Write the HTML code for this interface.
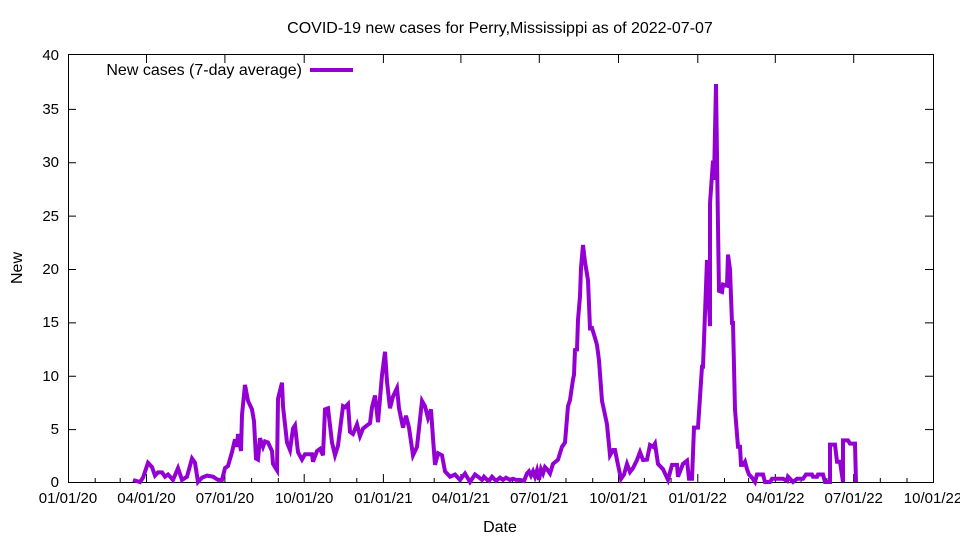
<!DOCTYPE html>
<html><head><meta charset="utf-8"><style>
html,body{margin:0;padding:0;background:#fff;}
svg text{font-family:"Liberation Sans",sans-serif;font-size:15px;fill:#000;}
svg text.big{font-size:16px;}
</style></head><body>
<svg width="960" height="540" xmlns="http://www.w3.org/2000/svg">
<rect width="960" height="540" fill="#fff"/>
<text class="big" x="500" y="33" text-anchor="middle">COVID-19 new cases for Perry,Mississippi as of 2022-07-07</text>
<g stroke="#000" stroke-width="1" fill="none">
<rect x="68.5" y="54.5" width="865" height="428"/>
<path d="M68 429.6h8M933 429.6h-8M68 376.2h8M933 376.2h-8M68 322.9h8M933 322.9h-8M68 269.5h8M933 269.5h-8M68 216.1h8M933 216.1h-8M68 162.7h8M933 162.7h-8M68 109.4h8M933 109.4h-8"/>
<path d="M146.5 482v-8M146.5 55v8M224.9 482v-8M224.9 55v8M304.2 482v-8M304.2 55v8M383.4 482v-8M383.4 55v8M460.9 482v-8M460.9 55v8M539.3 482v-8M539.3 55v8M618.5 482v-8M618.5 55v8M697.8 482v-8M697.8 55v8M775.3 482v-8M775.3 55v8M853.7 482v-8M853.7 55v8"/>
<path d="M95.2 482v-4M120.2 482v-4M172.4 482v-4M198.2 482v-4M251.6 482v-4M278.3 482v-4M330.1 482v-4M356.8 482v-4M410.1 482v-4M434.2 482v-4M486.8 482v-4M512.6 482v-4M566 482v-4M592.7 482v-4M644.4 482v-4M671.1 482v-4M724.5 482v-4M748.6 482v-4M801.1 482v-4M826.9 482v-4M880.3 482v-4M907 482v-4"/>
</g>
<g text-anchor="end">
<text x="59" y="487">0</text><text x="59" y="434">5</text><text x="59" y="381">10</text><text x="59" y="327">15</text><text x="59" y="274">20</text><text x="59" y="221">25</text><text x="59" y="167">30</text><text x="59" y="114">35</text><text x="59" y="60">40</text>
</g>
<g text-anchor="middle">
<text x="68" y="503">01/01/20</text><text x="146.5" y="503">04/01/20</text><text x="224.9" y="503">07/01/20</text><text x="304.2" y="503">10/01/20</text><text x="383.4" y="503">01/01/21</text><text x="460.9" y="503">04/01/21</text><text x="539.3" y="503">07/01/21</text><text x="618.5" y="503">10/01/21</text><text x="697.8" y="503">01/01/22</text><text x="775.3" y="503">04/01/22</text><text x="853.7" y="503">07/01/22</text><text x="933" y="503">10/01/22</text>
<text class="big" x="500" y="532">Date</text>
<text class="big" transform="translate(22,268) rotate(-90)">New</text>
</g>
<text class="big" x="302" y="75" text-anchor="end">New cases (7-day average)</text>
<line x1="310" y1="70" x2="353" y2="70" stroke="#9400d3" stroke-width="4"/>
<polyline fill="none" stroke="#9400d3" stroke-width="4" stroke-linejoin="miter" points="
133,480 140,482 143,477.7 148,462.8 152,467.1 155,475.6 158,472.4 162,472.4 165,476.7 168,474.5 173,479.9 178,468.1 182,479.9 187,476.7 192,458.5 195,462.8 198,482 202,477.7 207,475.6 213,476.7 218,479.9 222,479.9 225,468.1 228,466 232,452.1 235,439.3 237,446.8 238,434 241,451 242,414.7 245,384.9 248,400.9 252,409.4 254,421.2 256,458.5 258,459.6 260,438.2 263,446.8 265,441.4 268,442.5 272,451 273,463.9 277,470.3 278,398.7 282,382.7 283,406.2 287,442.5 290,450 293,428.6 295,425.4 298,452.1 302,459.6 305,454.2 312,454.2 313,461.7 317,451 320,448.9 323,455.3 325,409.4 328,408.3 332,442.5 335,455.3 338,445.7 343,406.2 345,407.3 348,404.1 350,431.8 353,434 357,424.4 360,436.1 363,428.6 367,425.4 370,423.3 372,407.3 375,395.5 378,422.2 382,375.2 385,351.8 387,381.7 390,408.3 393,396.6 397,388.1 399,408.3 403,427.6 406,415.8 409,427.6 413,455.3 417,446.8 422,400.9 425,406.2 428,418 431,409.4 433,438.2 435,464.9 438,453.2 442,455.3 445,471.3 450,476.7 455,474.5 460,479.9 465,473.5 470,482 475,474.5 478,476.7 482,479.9 484,476.7 486,478.8 489,480.9 492,476.7 496,480.9 500,477.7 503,479.9 506,477.7 510,479.9 513,478.8 516,479.9 520,479.9 524,481 527,473.5 529,471.3 531,475.6 533,471.3 535,476.7 537,470.3 539,479.9 541,469.2 543,473.5 545,467.1 547,469.2 550,473.5 553,463.9 558,459.6 562,446.8 565,442.5 568,406.2 570,400 573,379.5 574,375 575,350 577,349.6 578,320 580,296.3 581,268 583,245 585,262 588,280.2 590,328.3 592,328 595,337.9 597,345 599,360.3 602,400.9 604,410 607,424.4 610,455.3 613,450 615,450 618,464.9 621,478.8 624,474.5 627,463.9 630,472 633,468.1 637,460 640,452.1 643,460 647,459.6 650,445 653,446.8 655,443.6 658,463.9 663,469.2 668,479.9 672,464.9 677,464.9 678,476.7 683,463.9 687,460.7 689,478.8 692,478.8 694,427.6 698,427.6 702,366.7 703,366.7 705,313.3 707,260 710,326.1 710,203.4 713,160.7 714,179.9 716,84 718,226.9 719,290.9 722,292 723,284.5 727,285.6 728,254.6 730,269.6 732,322.9 733,322.9 735,409.4 738,446.8 740,446.8 741,464.9 743,464.9 745,461.7 747,469.2 749,474.5 752,477.7 755,482 757,474.5 763,474.5 765,482 770,482 772,478.8 783,478.8 787,480.9 788,476.7 790,478.8 793,482 797,478.8 803,478.8 806,474.5 812,474.5 813,476.7 817,476.7 818,474.5 823,474.5 825,482 830,482 830,444.6 835,444.6 837,461.7 840,461.7 843,482 843,440.4 848,440.4 850,443.6 855,443.6 856,482"/>
</svg>
</body></html>
